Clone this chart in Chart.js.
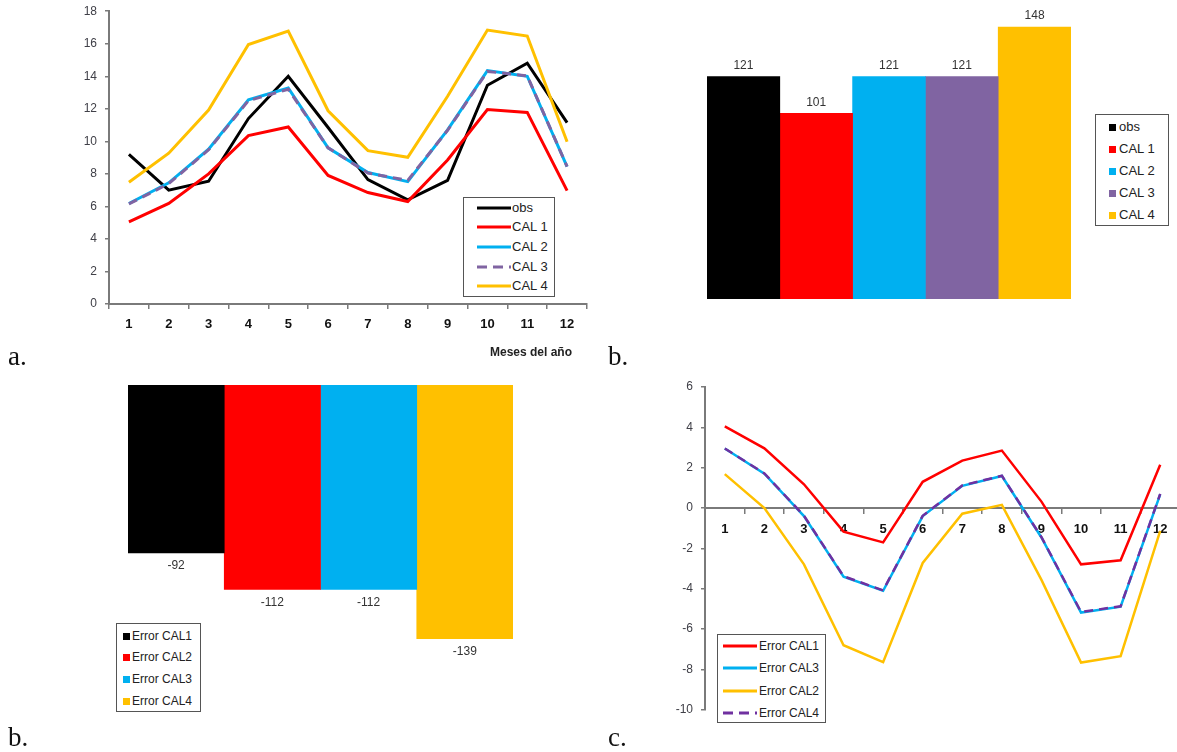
<!DOCTYPE html>
<html>
<head>
<meta charset="utf-8">
<script src="https://cdn.jsdelivr.net/npm/chart.js@4/dist/chart.umd.min.js"></script>
<style>
  html, body { margin: 0; padding: 0; background: #fff; }
  body { position: relative; width: 1177px; height: 752px; overflow: hidden; font-family: "Liberation Sans", Arial, sans-serif; }
  canvas { position: absolute; }
  .tag { position: absolute; font-family: "Liberation Serif", "DejaVu Serif", serif; font-size: 27px; line-height: 1; color: #111; }
  .legend { position: absolute; border: 1.5px solid #555; background: #fff; box-sizing: border-box; }
  .legend .row { position: absolute; left: 0; height: 16px; line-height: 16px; white-space: nowrap; color: #222; }
  .legend .row > * { position: absolute; }
  .axis-title { position: absolute; font-weight: bold; font-size: 12px; color: #222; white-space: nowrap; }
</style>
</head>
<body>

<canvas id="monthly" width="600" height="354" style="left:0;top:-4px"></canvas>
<canvas id="totals" width="364" height="294" style="left:707px;top:5px"></canvas>
<canvas id="errTotals" width="385" height="292" style="left:128px;top:385px"></canvas>
<canvas id="errMonthly" width="580" height="355" style="left:600px;top:370px"></canvas>

<div class="axis-title" style="left:490px;top:345px">Meses del año</div>

<div class="tag" style="left:8px;top:343px">a.</div>
<div class="tag" style="left:608px;top:343px">b.</div>
<div class="tag" style="left:8px;top:724px">b.</div>
<div class="tag" style="left:608px;top:724px">c.</div>

<script>
// monthly values (panel a)
const months = ['1', '2', '3', '4', '5', '6', '7', '8', '9', '10', '11', '12'];
const obs  = [9.2, 7.0, 7.55, 11.4, 14.0, 10.85, 7.65, 6.4, 7.6, 13.45, 14.8, 11.15];
const cal1 = [5.05, 6.18, 8.0, 10.35, 10.88, 7.9, 6.85, 6.3, 8.85, 11.95, 11.78, 6.97];
const cal2 = [6.18, 7.45, 9.52, 12.55, 13.28, 9.6, 8.08, 7.52, 10.7, 14.35, 14.0, 8.45];
const cal3 = [6.15, 7.4, 9.48, 12.5, 13.2, 9.6, 8.05, 7.6, 10.68, 14.3, 14.02, 8.45];
const cal4 = [7.48, 9.27, 11.92, 15.95, 16.78, 11.88, 9.43, 9.02, 12.77, 16.84, 16.47, 9.98];
const seriesNames = ['obs', 'CAL 1', 'CAL 2', 'CAL 3', 'CAL 4'];
const seriesColors = ['#000000', '#ff0000', '#00b0f0', '#8064a2', '#ffc000'];

// annual totals (panel b, top)
const totals = [121, 101, 121, 121, 148];

// total errors (panel b, bottom)
const errNames = ['Error CAL1', 'Error CAL2', 'Error CAL3', 'Error CAL4'];
const errColors = ['#000000', '#ff0000', '#00b0f0', '#ffc000'];
const errTotals = [-92, -112, -112, -139];

// monthly errors (panel c)
const errLineNames = ['Error CAL1', 'Error CAL3', 'Error CAL2', 'Error CAL4'];
const errLineColors = ['#ff0000', '#00b0f0', '#ffc000', '#7030a0'];
const errCal1 = [4.05, 2.96, 1.18, -1.17, -1.7, 1.3, 2.35, 2.85, 0.32, -2.79, -2.59, 2.15];
const errCal3 = [2.95, 1.7, -0.4, -3.4, -4.1, -0.4, 1.1, 1.59, -1.46, -5.18, -4.89, 0.68];
const errCal2 = [1.68, 0.0, -2.79, -6.8, -7.64, -2.72, -0.28, 0.16, -3.56, -7.66, -7.34, -1.13];
const errCal4 = [2.95, 1.72, -0.38, -3.38, -4.08, -0.38, 1.12, 1.6, -1.44, -5.15, -4.87, 0.7];

Chart.defaults.font.family = '"Liberation Sans", Arial, sans-serif';
Chart.defaults.animation = false;
Chart.defaults.responsive = false;
Chart.defaults.plugins.legend.display = false;
Chart.defaults.plugins.tooltip.enabled = false;

const axisGrey = '#7a7a7a';

// prints each bar's value just past its end
const barValueLabels = {
  id: 'barValueLabels',
  afterDatasetsDraw(chart) {
    const ctx = chart.ctx;
    ctx.save();
    ctx.font = '12px "Liberation Sans", Arial, sans-serif';
    ctx.fillStyle = '#333';
    ctx.textAlign = 'center';
    chart.data.datasets.forEach((ds, i) => {
      chart.getDatasetMeta(i).data.forEach((bar, j) => {
        const v = ds.data[j];
        if (v >= 0) {
          ctx.textBaseline = 'bottom';
          ctx.fillText(String(v), bar.x, bar.y - 5);
        } else {
          ctx.textBaseline = 'top';
          ctx.fillText(String(v), bar.x, bar.y + 7);
        }
      });
    });
    ctx.restore();
  }
};

function lineSet(label, data, color, idx, count, width, dashed) {
  return {
    label, data,
    borderColor: color,
    backgroundColor: color,
    borderWidth: width,
    borderDash: dashed ? [9, 6] : [],
    pointRadius: 0,
    tension: 0,
    fill: false,
    order: count - idx // later series on top
  };
}

function monthAxis(extra) {
  return Object.assign({
    offset: true,
    grid: { offset: true, drawOnChartArea: false, tickLength: 5, color: axisGrey, lineWidth: 1.5 },
    border: { color: axisGrey, width: 2 },
    ticks: { color: '#111', font: { size: 13, weight: 'bold' }, padding: 8, maxRotation: 0 }
  }, extra);
}

function valueAxis(min, max, width) {
  return {
    min, max,
    ticks: { stepSize: 2, color: '#404048', font: { size: 12 }, padding: 8 },
    grid: { drawOnChartArea: false, tickLength: 4, color: axisGrey, lineWidth: 1.5 },
    border: { color: axisGrey, width: 2 },
    afterFit: s => { s.width = width; }
  };
}

// --- a. monthly series ---
const monthlyData = [obs, cal1, cal2, cal3, cal4];
new Chart(document.getElementById('monthly'), {
  type: 'line',
  data: {
    labels: months,
    datasets: monthlyData.map((d, i) => lineSet(seriesNames[i], d, seriesColors[i], i, 5, 3, i === 3))
  },
  options: {
    layout: { padding: { top: 7, right: 13, left: 0, bottom: 0 } },
    scales: {
      x: monthAxis({ afterFit: s => { s.height = 46; } }),
      y: valueAxis(0, 18, 109)
    }
  }
});

// --- b. annual totals ---
new Chart(document.getElementById('totals'), {
  type: 'bar',
  data: {
    labels: [''],
    datasets: totals.map((v, i) => ({
      label: seriesNames[i], data: [v], backgroundColor: seriesColors[i],
      borderWidth: 0, categoryPercentage: 1, barPercentage: 1
    }))
  },
  options: {
    layout: { padding: 0 },
    scales: {
      x: { display: false },
      y: { display: false, min: 0, max: 160 }
    }
  },
  plugins: [barValueLabels]
});

// --- b. total errors ---
new Chart(document.getElementById('errTotals'), {
  type: 'bar',
  data: {
    labels: [''],
    datasets: errTotals.map((v, i) => ({
      label: errNames[i], data: [v], backgroundColor: errColors[i],
      borderWidth: 0, categoryPercentage: 1, barPercentage: 1
    }))
  },
  options: {
    layout: { padding: 0 },
    scales: {
      x: { display: false },
      y: { display: false, min: -160, max: 0 }
    }
  },
  plugins: [barValueLabels]
});

// --- c. monthly errors ---
const errData = [errCal1, errCal3, errCal2, errCal4];
new Chart(document.getElementById('errMonthly'), {
  type: 'line',
  data: {
    labels: months,
    datasets: errData.map((d, i) => lineSet(errLineNames[i], d, errLineColors[i], i, 4, 2.5, i === 3))
  },
  options: {
    layout: { padding: { top: 17, right: 0, left: 0, bottom: 8 } },
    scales: {
      x: monthAxis({ position: { y: 0 }, ticks: { color: '#111', font: { size: 13, weight: 'bold' }, padding: 9, maxRotation: 0 } }),
      y: valueAxis(-10, 6, 105)
    }
  }
});

// --- legends ---
function buildLegend(box, names, colors, opts) {
  const el = document.createElement('div');
  el.className = 'legend';
  Object.assign(el.style, { left: box[0] + 'px', top: box[1] + 'px', width: box[2] + 'px', height: box[3] + 'px' });
  names.forEach((name, i) => {
    const row = document.createElement('div');
    row.className = 'row';
    row.style.top = (opts.rows[i] - 8) + 'px';
    row.style.fontSize = opts.fontSize + 'px';
    let sample;
    if (opts.kind === 'box') {
      sample = document.createElement('div');
      Object.assign(sample.style, { left: opts.sampleX + 'px', top: '5px', width: '7px', height: '7px', background: colors[i] });
    } else {
      sample = document.createElementNS('http://www.w3.org/2000/svg', 'svg');
      sample.setAttribute('width', opts.sampleW);
      sample.setAttribute('height', 16);
      sample.style.left = opts.sampleX + 'px';
      sample.style.top = '0px';
      const ln = document.createElementNS('http://www.w3.org/2000/svg', 'line');
      ln.setAttribute('x1', 0); ln.setAttribute('x2', opts.sampleW);
      ln.setAttribute('y1', 8); ln.setAttribute('y2', 8);
      ln.setAttribute('stroke', colors[i]);
      ln.setAttribute('stroke-width', 3);
      if (opts.dashed && opts.dashed[i]) ln.setAttribute('stroke-dasharray', '10 6');
      sample.appendChild(ln);
    }
    const text = document.createElement('span');
    text.textContent = name;
    text.style.left = opts.textX + 'px';
    row.appendChild(sample);
    row.appendChild(text);
    el.appendChild(row);
  });
  document.body.appendChild(el);
}

buildLegend([463, 197, 92, 100], seriesNames, seriesColors,
  { kind: 'line', rows: [10, 29, 49, 69, 88], sampleX: 13, sampleW: 34, textX: 48, fontSize: 13, dashed: [false, false, false, true, false] });
buildLegend([1095, 114, 74, 112], seriesNames, seriesColors,
  { kind: 'box', rows: [12, 34, 56, 78, 100], sampleX: 13, textX: 23, fontSize: 13 });
buildLegend([116, 623, 85, 89], errNames, errColors,
  { kind: 'box', rows: [12, 33, 55, 77], sampleX: 6, textX: 15, fontSize: 12 });
buildLegend([717, 634, 109, 89], errLineNames, errLineColors,
  { kind: 'line', rows: [11, 33, 56, 78], sampleX: 5, sampleW: 34, textX: 41, fontSize: 12, dashed: [false, false, false, true] });
</script>
</body>
</html>
